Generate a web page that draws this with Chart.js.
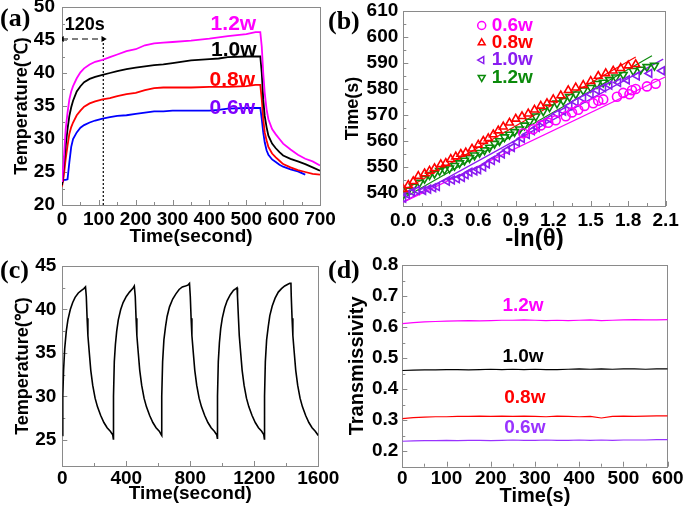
<!DOCTYPE html>
<html>
<head>
<meta charset="utf-8">
<script src="https://cdn.jsdelivr.net/npm/chart.js@4/dist/chart.umd.min.js"></script>
<style>
  body { margin: 0; background: #fff; width: 685px; height: 514px; position: relative; overflow: hidden; }
  canvas { position: absolute; }
  .tag { position: absolute; font: bold 26px "Liberation Serif", "Times New Roman", serif; line-height: 26px; color: #000; }
</style>
</head>
<body>
<canvas id="chartA" width="340" height="250" style="left:0;top:0"></canvas>
<canvas id="chartB" width="345" height="250" style="left:340px;top:0"></canvas>
<canvas id="chartC" width="340" height="264" style="left:0;top:250px"></canvas>
<canvas id="chartD" width="345" height="264" style="left:340px;top:250px"></canvas>
<div class="tag" style="left:0;top:5px">(a)</div>
<div class="tag" style="left:328px;top:8px">(b)</div>
<div class="tag" style="left:0;top:257px">(c)</div>
<div class="tag" style="left:328px;top:257px">(d)</div>
<script>
// ---------- (a) temperature vs time at four powers
var timeA = [0, 5, 10, 15, 20, 25, 30, 40, 50, 60, 75, 90, 110, 130, 150, 175, 200, 225, 250, 275, 300,
  350, 400, 425, 450, 500, 525, 538, 542, 546, 550, 555, 560, 570, 580, 590, 600, 620, 640, 660, 680, 700];
var temp12A = [23.5, 27, 31.5, 34, 36, 37.2, 38, 39.2, 40.1, 40.7, 41.3, 41.7, 42.0, 42.4, 42.8, 43.3, 43.6, 44.2, 44.5, 44.6, 44.7,
  44.9, 45.2, 45.4, 45.6, 45.9, 46.2, 46.2, 44, 40, 37, 34.5, 33, 31.5, 30.7, 30, 29.3, 28.4, 27.6, 27, 26.6, 26];
var temp10A = [23, 26, 29, 31.5, 33.5, 34.8, 35.8, 37.2, 38, 38.6, 39.1, 39.4, 39.7, 40, 40.3, 40.6, 40.8, 41, 41.2, 41.3, 41.5,
  41.9, 42.1, 42.2, 42.4, 42.5, 42.5, 42.5, 40, 36, 33.5, 31.8, 30.5, 29.3, 28.6, 28, 27.5, 27, 26.6, 26.2, 25.7, 25.2];
var temp08A = [22.8, 24.5, 27, 29, 30.8, 31.8, 32.5, 33.6, 34.3, 34.9, 35.4, 35.7, 36.0, 36.2, 36.5, 36.8, 37, 37.4, 37.7, 37.8, 37.8,
  37.8, 37.9, 37.9, 37.9, 38, 38.2, 38.2, 36, 33, 31, 29.8, 28.8, 27.8, 27.2, 26.7, 26.2, 25.7, 25.3, 25, 24.7, 24.6];
var temp06A = [23.3, 23.8, 23.8, 23.9, 26.5, 28.8, 30.0, 31.0, 31.7, 32.1, 32.5, 32.8, 33.1, 33.3, 33.5, 33.6, 33.8, 34, 34.2, 34.2, 34.3,
  34.3, 34.3, 34.4, 34.6, 34.7, 34.7, 34.7, 33, 31, 29.5, 28.3, 27.6, 26.9, 26.5, 26.1, 25.8, 25.4, 25.1, 24.6, null, null];
var powersA = ["1.2w", "1.0w", "0.8w", "0.6w"];
var ticksXA = [0, 100, 200, 300, 400, 500, 600, 700];
var ticksYA = [20, 25, 30, 35, 40, 45, 50];
var spanEndA = 112;    // end of the 120 s marker
var spanLevelA = 45.15;

// ---------- (b) time vs -ln(theta)
var lnB06 = [0.96, 1.04, 1.1, 1.16, 1.22, 1.3, 1.35, 1.4, 1.45, 1.52, 1.56, 1.6, 1.71, 1.76, 1.81, 1.83, 1.86, 1.95, 2.02];
var tB06 = [563, 564.5, 566, 567, 568, 569.5, 571, 572, 573.5, 574.5, 575.5, 576, 577, 578.5, 578, 579.5, 580, 581, 582];
var lnB08 = [0, 0.04, 0.08, 0.12, 0.17, 0.21, 0.25, 0.3, 0.34, 0.38, 0.42, 0.46, 0.5, 0.55, 0.6, 0.64, 0.68, 0.72, 0.76, 0.8,
  0.85, 0.9, 0.95, 1.0, 1.05, 1.1, 1.15, 1.2, 1.26, 1.32, 1.38, 1.44, 1.5, 1.56, 1.62, 1.68, 1.74, 1.8, 1.86];
var tB08 = [541.5, 543, 544.5, 546.5, 547.5, 548.5, 549.5, 551, 551.5, 553, 554, 555, 555.5, 557, 558.5, 560, 561, 562.5, 564, 565.5,
  567, 568.5, 569.5, 570.5, 572, 573.5, 574.5, 576, 577.5, 579.5, 580.5, 581.5, 583, 585, 586, 587, 588, 589, 589.5];
var lnB10 = [0, 0.03, 0.07, 0.11, 0.16, 0.2, 0.24, 0.27, 0.35, 0.39, 0.43, 0.47, 0.5, 0.53, 0.57, 0.6, 0.64, 0.67, 0.71, 0.75,
  0.79, 0.83, 0.87, 0.91, 0.95, 0.99, 1.03, 1.07, 1.12, 1.17, 1.23, 1.28, 1.33, 1.38, 1.44, 1.5, 1.55, 1.6, 1.65, 1.72, 1.79, 1.87, 1.97, 2.07];
var tB10 = [538, 539.5, 540.5, 541, 541, 541.5, 542, 542.5, 544.5, 545, 545.5, 546, 547, 548, 548.5, 549, 550, 551.2, 552.5, 553.5,
  555, 556.5, 557.5, 559.5, 561, 562.5, 564, 565.2, 567, 568.5, 570.5, 571.5, 573.5, 575, 576.5, 578, 579.5, 580.5, 581.5, 582.5, 583.5, 585, 586, 587];
var lnB12 = [0, 0.04, 0.08, 0.13, 0.17, 0.21, 0.25, 0.29, 0.33, 0.37, 0.41, 0.45, 0.49, 0.53, 0.57, 0.61, 0.65, 0.69, 0.73, 0.77,
  0.81, 0.85, 0.89, 0.93, 0.97, 1.01, 1.06, 1.12, 1.17, 1.23, 1.28, 1.33, 1.38, 1.44, 1.5, 1.55, 1.6, 1.65, 1.7, 1.76, 1.84, 1.9, 1.95, 2.01];
var tB12 = [539.5, 541, 542.5, 544, 545.5, 547, 547.5, 548.5, 549, 549.5, 550.5, 551.5, 552.5, 553.5, 554.5, 555.5, 556.5, 557.5, 559, 560,
  561.5, 562.5, 563.5, 564.5, 566, 567.5, 569.5, 571.5, 573, 574.5, 575.5, 577, 578, 579.5, 580.5, 582, 582.5, 583.5, 584.5, 585.5, 587, 587.5, 588.5, 589];
// fitted lines: [x0, x1] and [y0, y1]
var fitX06 = [0, 2.1], fitY06 = [536.5, 584.7];
var fitX08 = [0, 1.86], fitY08 = [541, 592.3];
var fitX10 = [0, 2.08], fitY10 = [536.5, 591.5];
var fitX12 = [0, 1.99], fitY12 = [538, 592.8];
var powersB = ["0.6w", "0.8w", "1.0w", "1.2w"];
var ticksXB = [0, 0.3, 0.6, 0.9, 1.2, 1.5, 1.8, 2.1];
var ticksYB = [540, 550, 560, 570, 580, 590, 600, 610];

// ---------- (c) five on/off cycles
var timeC = [0, 3, 8, 15, 25, 35, 50, 65, 80, 100, 120, 135, 145, 148,
  150, 155, 160, 168, 178, 190, 205, 220, 240, 260, 280, 300, 315, 319,
  320, 325, 332, 340, 350, 365, 380, 400, 420, 440, 450, 454,
  456, 461, 466, 474, 484, 496, 511, 526, 546, 566, 586, 606, 618, 621,
  622, 627, 635, 645, 655, 670, 690, 710, 730, 750, 770, 785, 795, 798,
  800, 805, 810, 818, 828, 840, 855, 870, 890, 910, 930, 950, 965, 969,
  970, 975, 982, 990, 1000, 1015, 1030, 1050, 1070, 1085, 1092, 1094,
  1096, 1101, 1106, 1114, 1124, 1136, 1151, 1166, 1186, 1206, 1226, 1246, 1259, 1263,
  1264, 1269, 1277, 1287, 1297, 1312, 1330, 1350, 1370, 1390, 1410, 1422, 1429,
  1431, 1436, 1441, 1449, 1459, 1471, 1486, 1501, 1521, 1541, 1561, 1581, 1600];
var tempC = [25.5, 30, 33, 35.5, 37.5, 38.8, 40, 40.8, 41.4, 41.9, 42.2, 42.4, 42.6, 42.6,
  41.5, 39, 37, 35.2, 33, 31.3, 29.8, 28.8, 27.8, 27, 26.4, 26, 25.6, 25.1,
  30, 34, 36, 37.5, 38.8, 40, 40.8, 41.5, 42, 42.4, 42.7, 42.7,
  41.5, 39, 37, 35.2, 33, 31.3, 29.8, 28.8, 27.8, 27, 26.4, 26, 25.6, 25.5,
  30, 34, 36.5, 38, 39.2, 40.3, 41.2, 41.8, 42.3, 42.6, 42.7, 42.8, 43, 43,
  41.5, 39, 37, 35.2, 33, 31.3, 29.8, 28.8, 27.8, 27, 26.4, 26, 25.6, 25.2,
  30, 34, 36.2, 37.8, 39, 40.2, 41, 41.7, 42.2, 42.4, 42.5, 42.5,
  41.5, 39, 37, 35.2, 33, 31.3, 29.8, 28.8, 27.8, 27, 26.4, 26, 25.6, 25.1,
  30, 34, 36.5, 38, 39.3, 40.4, 41.3, 42, 42.4, 42.7, 42.9, 43, 43,
  41.5, 39, 37, 35.2, 33, 31.3, 29.8, 28.8, 27.8, 27, 26.4, 26, 25.5];
var ticksXC = [0, 400, 800, 1200, 1600];
var ticksYC = [25, 30, 35, 40, 45];

// ---------- (d) transmissivity vs time
var timeD = [0, 25, 50, 75, 100, 125, 150, 175, 200, 225, 250, 275, 300, 325, 350, 375, 400, 425, 450, 475, 500, 525, 550, 575, 600];
var trans12D = [0.611, 0.614, 0.617, 0.618, 0.619, 0.620, 0.621, 0.620, 0.621, 0.622, 0.622, 0.623, 0.622, 0.621, 0.622, 0.621, 0.622,
  0.623, 0.621, 0.622, 0.623, 0.624, 0.623, 0.623, 0.624];
var trans10D = [0.460, 0.461, 0.462, 0.462, 0.463, 0.463, 0.462, 0.463, 0.464, 0.463, 0.464, 0.463, 0.464, 0.463, 0.463, 0.464, 0.465,
  0.464, 0.465, 0.464, 0.465, 0.465, 0.464, 0.465, 0.465];
var trans08D = [0.305, 0.308, 0.310, 0.311, 0.311, 0.312, 0.312, 0.313, 0.312, 0.313, 0.312, 0.313, 0.312, 0.311, 0.313, 0.312, 0.311,
  0.312, 0.307, 0.312, 0.313, 0.312, 0.313, 0.314, 0.314];
var trans06D = [0.232, 0.233, 0.234, 0.234, 0.235, 0.234, 0.235, 0.235, 0.234, 0.235, 0.236, 0.235, 0.235, 0.236, 0.235, 0.235, 0.236,
  0.235, 0.236, 0.235, 0.236, 0.236, 0.236, 0.237, 0.237];
var powersD = ["1.2w", "1.0w", "0.8w", "0.6w"];
var ticksXD = [0, 100, 200, 300, 400, 500, 600];
var ticksYD = [0.2, 0.3, 0.4, 0.5, 0.6, 0.7, 0.8];

// ---------- helpers
var FONT = "'Liberation Sans', Arial, Helvetica, sans-serif";
var MAGENTA = "#ff00ff", RED = "#ff0000", VIOLET = "#8a1cf0", GREEN = "#0b8a0b";

function font(size) { return { family: FONT, size: size, weight: "bold" }; }

function pairs(xs, ys) {
  var out = [];
  for (var i = 0; i < xs.length; i++) {
    if (ys[i] != null) out.push({ x: xs[i], y: ys[i] });
  }
  return out;
}

// fixed axis thickness so the plot areas land where the figure has them
function fixBox(size) {
  return function (scale) {
    if (scale.isHorizontal()) scale.height = size; else scale.width = size;
    scale.paddingTop = scale.paddingBottom = scale.paddingLeft = scale.paddingRight = 0;
  };
}

function useTicks(list) {
  return function (scale) {
    scale.ticks = list.map(function (v) { return { value: v }; });
  };
}

function axis(o) {
  return {
    type: "linear",
    min: o.min,
    max: o.max,
    afterBuildTicks: useTicks(o.ticks),
    afterFit: fixBox(o.box),
    grid: { display: false, drawTicks: false },
    border: { display: false },
    ticks: {
      color: "#000", font: font(19), padding: o.pad, autoSkip: false, maxRotation: 0,
      callback: o.fmt || function (v) { return String(v); }
    },
    title: { display: true, text: o.title, color: "#000", font: font(o.tsize), padding: o.tpad }
  };
}

// grey box with inward major/minor ticks on bottom and left
var frame = {
  id: "frame",
  beforeDatasetsDraw: function (chart) {
    var a = chart.chartArea, ctx = chart.ctx;
    var sx = chart.scales.x, sy = chart.scales.y;
    ctx.save();
    ctx.strokeStyle = "#8a8a8a";
    ctx.lineWidth = 1;
    ctx.strokeRect(Math.round(a.left) + 0.5, Math.round(a.top) + 0.5, Math.round(a.right - a.left), Math.round(a.bottom - a.top));
    ctx.beginPath();
    marks(sx).forEach(function (m) {
      var p = Math.round(sx.getPixelForValue(m.v)) + 0.5;
      ctx.moveTo(p, a.bottom); ctx.lineTo(p, a.bottom - m.len);
    });
    marks(sy).forEach(function (m) {
      var p = Math.round(sy.getPixelForValue(m.v)) + 0.5;
      ctx.moveTo(a.left, p); ctx.lineTo(a.left + m.len, p);
    });
    ctx.stroke();
    ctx.restore();
  }
};

function marks(scale) {
  var out = [], t = scale.ticks;
  for (var i = 0; i < t.length; i++) {
    out.push({ v: t[i].value, len: 5 });
    if (i + 1 < t.length) out.push({ v: (t[i].value + t[i + 1].value) / 2, len: 3 });
  }
  return out;
}

// text placed at data coordinates
function notes(list) {
  return {
    id: "notes",
    afterDatasetsDraw: function (chart) {
      var ctx = chart.ctx, sx = chart.scales.x, sy = chart.scales.y;
      ctx.save();
      ctx.textAlign = "center";
      ctx.textBaseline = "middle";
      list.forEach(function (n) {
        ctx.font = "bold " + n.size + "px " + FONT;
        ctx.fillStyle = n.color;
        ctx.fillText(n.text, sx.getPixelForValue(n.x), sy.getPixelForValue(n.y));
      });
      ctx.restore();
    }
  };
}

var base = {
  responsive: false,
  animation: false,
  events: [],
  plugins: { legend: { display: false }, tooltip: { enabled: false } },
  elements: { line: { tension: 0, fill: false }, point: { radius: 0 } }
};

function opts(padding, scales) {
  return Object.assign({}, base, { layout: { padding: padding }, scales: scales });
}

// ---------- chart (a)
function lineA(values, color) {
  return { data: pairs(timeA, values), borderColor: color, borderWidth: 1.8, pointRadius: 0 };
}
new Chart(document.getElementById("chartA"), {
  type: "line",
  data: {
    datasets: [
      lineA(temp12A, MAGENTA),
      lineA(temp10A, "#000000"),
      lineA(temp08A, RED),
      lineA(temp06A, "#0000ff"),
      { // 120 s span arrow
        data: [{ x: 0, y: spanLevelA }, { x: spanEndA, y: spanLevelA }],
        borderColor: "#000", backgroundColor: "#000", borderWidth: 1.2, borderDash: [6, 4],
        pointStyle: "triangle", pointRadius: 3.5, pointRotation: [-90, 90], pointBorderWidth: 0
      },
      { // dotted marker at the end of the span
        data: [{ x: spanEndA, y: spanLevelA }, { x: spanEndA, y: 20 }],
        borderColor: "#000", borderWidth: 1.2, borderDash: [2, 2], pointRadius: 0
      }
    ]
  },
  options: opts({ left: 0, top: 7, right: 20, bottom: 0 }, {
    x: axis({ min: 0, max: 700, ticks: ticksXA, box: 45, pad: 3, title: "Time(second)", tsize: 19, tpad: { top: 0, bottom: 2 } }),
    y: axis({ min: 20, max: 50, ticks: ticksYA, box: 62, pad: 7, title: "Temperature(\u2103)", tsize: 18, tpad: { top: 11, bottom: 0 } })
  }),
  plugins: [frame, notes([
    { text: powersA[0], x: 465, y: 47.35, color: MAGENTA, size: 21 },
    { text: powersA[1], x: 466, y: 43.4, color: "#000", size: 21 },
    { text: powersA[2], x: 462, y: 38.9, color: RED, size: 21 },
    { text: powersA[3], x: 462, y: 34.6, color: "#7f00ff", size: 21 },
    { text: "120s", x: 62, y: 47.3, color: "#000", size: 18 }
  ])]
});

// ---------- chart (b)
function pointsB(label, xs, ys, color, rotation) {
  return {
    type: "scatter", label: label, data: pairs(xs, ys), borderColor: color, backgroundColor: "rgba(0,0,0,0)",
    pointStyle: label === powersB[0] ? "circle" : "triangle", pointRotation: rotation,
    pointRadius: 4.5, pointBorderWidth: 1.6
  };
}
function fitB(xs, ys, color) {
  return { type: "line", data: pairs(xs, ys), borderColor: color, borderWidth: 1.2, pointRadius: 0, showLine: true };
}
var legendB = {
  id: "legendB",
  afterDatasetsDraw: function (chart) {
    var a = chart.chartArea, ctx = chart.ctx;
    var rows = chart.data.datasets.filter(function (d) { return d.type === "scatter"; });
    ctx.save();
    ctx.font = "bold 19px " + FONT;
    ctx.textBaseline = "middle";
    ctx.textAlign = "left";
    rows.forEach(function (d, i) {
      var x = a.left + 78.4, y = a.top + 14.5 + i * 17.3;
      ctx.strokeStyle = d.borderColor;
      ctx.fillStyle = "rgba(0,0,0,0)";
      ctx.lineWidth = 1.5;
      Chart.helpers.drawPoint(ctx, { pointStyle: d.pointStyle, rotation: d.pointRotation, radius: 4, borderWidth: 1.5 }, x, y);
      ctx.fillStyle = d.borderColor;
      ctx.fillText(d.label, x + 10, y);
    });
    ctx.restore();
  }
};
new Chart(document.getElementById("chartB"), {
  type: "scatter",
  data: {
    datasets: [
      pointsB(powersB[0], lnB06, tB06, MAGENTA, 0),
      pointsB(powersB[1], lnB08, tB08, RED, 0),
      pointsB(powersB[2], lnB10, tB10, VIOLET, -90),
      pointsB(powersB[3], lnB12, tB12, GREEN, 180),
      fitB(fitX06, fitY06, MAGENTA),
      fitB(fitX08, fitY08, RED),
      fitB(fitX10, fitY10, VIOLET),
      fitB(fitX12, fitY12, GREEN)
    ]
  },
  options: opts({ left: 0, top: 11, right: 19.3, bottom: 0 }, {
    x: axis({ min: 0, max: 2.1, ticks: ticksXB, box: 44, pad: 3, title: "-ln(\u03b8)", tsize: 24, tpad: { top: 0, bottom: -4 },
      fmt: function (v) { return v.toFixed(1); } }),
    y: axis({ min: 535, max: 610, ticks: ticksYB, box: 63.3, pad: 5, title: "Time(s)", tsize: 18, tpad: { top: 2, bottom: 0 } })
  }),
  plugins: [frame, legendB]
});

// ---------- chart (c)
new Chart(document.getElementById("chartC"), {
  type: "line",
  data: { datasets: [{ data: pairs(timeC, tempC), borderColor: "#000", borderWidth: 1.6, pointRadius: 0 }] },
  options: opts({ left: 0, top: 16, right: 21.7, bottom: 0 }, {
    x: axis({ min: 0, max: 1600, ticks: ticksXC, box: 48, pad: 1, title: "Time(second)", tsize: 19, tpad: { top: 0, bottom: 9 } }),
    y: axis({ min: 22, max: 45, ticks: ticksYC, box: 62.3, pad: 6, title: "Temperature(\u2103)", tsize: 18, tpad: { top: 12, bottom: 0 } })
  }),
  plugins: [frame]
});

// ---------- chart (d)
function lineD(values, color) {
  return { data: pairs(timeD, values), borderColor: color, borderWidth: 1.2, pointRadius: 0 };
}
new Chart(document.getElementById("chartD"), {
  type: "line",
  data: {
    datasets: [
      lineD(trans12D, MAGENTA),
      lineD(trans10D, "#000"),
      lineD(trans08D, RED),
      lineD(trans06D, "#9933ff")
    ]
  },
  options: opts({ left: 0, top: 15, right: 17.3, bottom: 0 }, {
    x: axis({ min: 0, max: 600, ticks: ticksXD, box: 47.3, pad: 1, title: "Time(s)", tsize: 20, tpad: { top: 0, bottom: 6 } }),
    y: axis({ min: 0.15, max: 0.8, ticks: ticksYD, box: 62.3, pad: 4, title: "Transmissivity", tsize: 20, tpad: { top: 5, bottom: 0 },
      fmt: function (v) { return v.toFixed(1); } })
  }),
  plugins: [frame, notes([
    { text: powersD[0], x: 273, y: 0.668, color: MAGENTA, size: 19 },
    { text: powersD[1], x: 273, y: 0.504, color: "#000", size: 19 },
    { text: powersD[2], x: 277, y: 0.372, color: RED, size: 19 },
    { text: powersD[3], x: 277, y: 0.276, color: "#9933ff", size: 19 }
  ])]
});
</script>
</body>
</html>
